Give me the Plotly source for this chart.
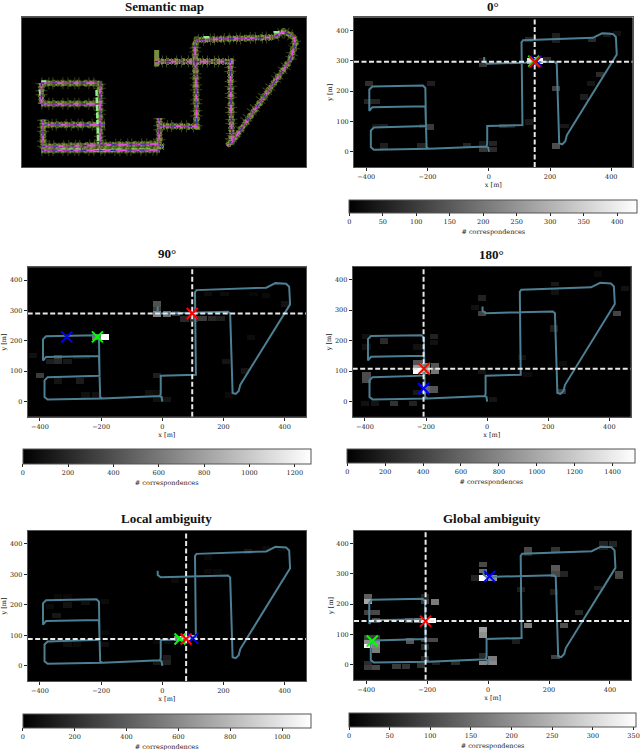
import numpy as np
import plotly.graph_objects as go

W, H = 640, 750
TRAJ_X = [0,-2,-8,-195,-375,-385,-385,-375,-205,-207,-380,-390,-390,-380,-215,-207,-205,-203,-195,-8,-5,-5,110,107,112,340,370,405,415,418,255,250,240,230,222,215,-5,-15,-15]
TRAJ_Y = [0,15,18,10,7,15,70,80,85,150,147,135,205,215,218,210,85,15,10,18,25,85,88,360,367,375,390,388,378,320,55,35,25,28,290,296,290,298,312]

X_TICKS = [-400,-200,0,200,400]
Y_TICKS = [0,100,200,300,400]

CELL_W, CELL_H = 27.0, 16.0
FINE_W, FINE_H = 4.5, 4.0
X0, Y0 = -440.0, -50.0
X1, Y1 = 470.0, 442.0

panel_names = ["0°","90°","180°","Local ambiguity","Global ambiguity"]
cb_max = [430,1270,1520,1110,353]
cb_step = [50,200,200,200,50]
cross_x = [150,98,-208,78,-205]
cross_y = [296,290,108,88,144]
red_x = [150,98,-207,78,-205]; red_y = [296,290,108,88,144]
green_x = [147,-212,-205,58,-380]; green_y = [298,213,108,88,78]
blue_x = [155,-312,-208,100,5]; blue_y = [298,213,43,90,292]

cells_0 = [(165,300,430),(140,300,380),(190,305,70),(-15,285,90),(-15,300,30),(130,370,60),(220,380,50),(220,365,50),
 (-390,225,80),(-370,165,60),(-395,165,60),(-190,225,50),(-191,84,100),(-215,85,50),(-340,85,50),(-370,85,40),
 (-340,20,50),(-220,20,60),(-70,22,60),(-15,10,90),(15,10,70),(15,30,60),(-15,30,40),(45,85,70),(75,85,50),(130,100,40),
 (220,211,110),(220,20,130),(340,370,70),(365,255,70),(335,225,35),(310,180,50),(250,85,40),(390,385,40),(420,390,30)]
cells_90 = [(-190,212,1270),(-215,212,600),(-15,320,400),(-15,305,300),(-15,288,650),(15,288,550),(45,290,250),(75,272,200),(105,272,250),(130,275,300),(165,275,200),(190,275,150),
 (-340,145,280),(-370,130,150),(-340,130,200),(-310,130,120),(-280,145,100),(-250,145,100),(-420,150,80),
 (-400,85,300),(-340,68,100),(-270,68,140),(-15,85,150),(-45,30,80),(-15,30,60),(15,5,100),(-15,5,80),
 (-250,20,80),(-215,20,80),(150,355,60),(205,355,60),(300,355,40),(340,350,50),(400,320,90),(290,210,60),(210,130,100),(270,100,100),(215,20,50)]
cells_180 = [(-230,100,1520),(-230,115,900),(-200,100,1000),(-170,100,700),(-170,118,500),(-200,118,800),(-230,130,500),
 (-395,90,450),(-395,72,450),(-175,40,500),(-200,40,600),(-230,30,150),(-15,290,400),(-15,340,200),(-40,310,100),
 (-175,215,200),(-175,195,100),(-335,200,250),(-395,215,100),(-395,180,100),(-230,180,100),
 (-305,-5,300),(-240,-5,200),(-370,-5,120),(-400,-5,100),(425,290,400),(220,385,150),(220,360,100),(215,240,180),(245,35,300),
 (-15,100,120),(115,145,100),(130,90,80),(450,370,100),(360,420,60),(20,5,120),(250,125,80)]
cells_local = [(75,90,1110),(50,90,600),(100,95,800),(20,80,60),(-15,80,40),(-15,10,100),(15,10,150),(15,25,120),
 (-310,200,80),(-370,195,50),(-345,165,100),(-250,205,70),(-340,225,40),(-310,225,40),(-310,70,60),(-280,70,50),(-190,70,60),(-190,110,40),(-190,210,50),(-370,80,50),
 (280,375,100),(340,385,50),(150,355,40),(40,280,50),(150,310,40),(180,310,40),(390,385,40)]
cells_global = [(-15,288,350),(15,288,200),(-15,310,150),(-15,330,100),(-45,288,50),(-395,225,130),(-395,210,230),(-370,175,100),(-395,175,90),
 (-175,208,170),(-205,225,50),(-205,210,80),(-185,147,350),(-205,147,300),(-230,147,150),(-260,147,100),(-370,147,100),
 (-395,75,200),(-395,62,340),(-370,75,200),(-370,62,180),(-370,48,170),(-395,90,90),(-370,90,80),(-255,80,120),(-180,82,100),(-205,82,80),(-205,60,60),
 (-15,118,220),(-15,100,200),(-15,30,60),(-15,5,190),(15,5,190),(15,20,170),(-395,5,60),(-395,-10,80),(-370,-10,100),(-300,-5,80),(-270,-5,70),(-220,0,70),(-205,20,50),(-170,5,40),(-105,5,60),
 (130,130,170),(130,380,100),(130,365,50),(220,380,70),(220,320,120),(220,300,100),(250,300,50),(380,400,50),(410,400,50),(380,385,40),(430,300,100),(430,290,90),(360,255,40),(300,175,50),(250,130,110),(220,25,90),(90,80,40),(110,250,40),(215,240,40)]
cells_all = [cells_0,cells_90,cells_180,cells_local,cells_global]

plot_px = [(354,632.7,17.5,167.3),(27.7,306,267.7,417.3),(352.7,630.7,267.3,417.3),(27.7,306,531.7,682),(354,631.3,531.7,680.7)]
cb_px = [(349.3,637.3,200,213),(22.7,310.7,449.3,464),(347.3,635.7,449,463.3),(22.7,310.7,714,728),(349,636,712.7,726.7)]
title_px = [(492.7,7),(166.7,254),(491.7,255),(166.7,519),(492,519)]
map_px = (22,306,17.3,167.7)

MAP_X = [[125,300,300],[125,300],[125,125],[135,315],[130,130],[128,300,480],[125,300,480],[478,478,492],[480,590,585,590,820,850,880,885,870,700,680],[690,695],[465,700]]
MAP_Y = [[250,250,435],[312,312],[250,312],[375,375],[360,445],[440,436,432],[451,452,450],[355,440,440],[378,380,130,120,112,95,110,130,180,420,438],[180,430],[185,185]]
MAP_BLOB_X = [470,470]; MAP_BLOB_Y = [150,200]
LIGHT_X = [[290,295],[125,140],[180,250],[280,365],[395,450],[820,850],[610,630],[120,125]]
LIGHT_Y = [[270,430],[245,245],[450,450],[452,450],[450,450],[97,97],[112,112],[270,300]]

def join(xs, ys):
    ox, oy = [], []
    for a, b in zip(xs, ys):
        ox += a + [None]; oy += b + [None]
    return ox, oy

fig = go.Figure()
axes = {}
GREY = "#555555"
FONT = "DejaVu Serif"
TXT = "#222222"
annots = []

def add_axes(n, px, ticks=True, xr=(X0,X1), yr=(Y0,Y1)):
    sx = "" if n == 1 else str(n)
    common = dict(showgrid=False, zeroline=False, showline=True, linecolor=GREY, linewidth=1, mirror=True)
    xa = dict(domain=[px[0]/W, px[1]/W], range=list(xr), anchor="y"+sx, **common)
    ya = dict(domain=[1-px[3]/H, 1-px[2]/H], range=list(yr), anchor="x"+sx, **common)
    if ticks:
        tk = dict(ticks="outside", ticklen=3, tickwidth=0.8, tickcolor=TXT, tickfont=dict(family=FONT, size=6.5, color=TXT))
        xa.update(tickvals=X_TICKS, title=dict(text="x [m]", font=dict(family=FONT, size=6.5, color=TXT), standoff=2), **tk)
        ya.update(tickvals=Y_TICKS, title=dict(text="y [m]", font=dict(family=FONT, size=6.5, color=TXT), standoff=2), **tk)
    else:
        xa.update(showticklabels=False, ticks="")
        ya.update(showticklabels=False, ticks="")
    axes["xaxis"+sx] = xa
    axes["yaxis"+sx] = ya
    return "x"+sx, "y"+sx

nx = int(round((X1-X0)/FINE_W))
ny = int(round((Y1-Y0)/FINE_H))
xc = X0 + FINE_W*(np.arange(nx)+0.5)
yc = Y0 + FINE_H*(np.arange(ny)+0.5)

for i, name in enumerate(panel_names):
    xa, ya = add_axes(i+1, plot_px[i])
    z = np.zeros((ny, nx))
    for cx, cy, v in cells_all[i]:
        mask_x = np.abs(xc-cx) <= CELL_W/2
        mask_y = np.abs(yc-cy) <= CELL_H/2
        z[np.ix_(mask_y, mask_x)] = np.maximum(z[np.ix_(mask_y, mask_x)], v)
    l, r, t, b = cb_px[i]
    fig.add_trace(go.Heatmap(z=z, x0=xc[0], dx=FINE_W, y0=yc[0], dy=FINE_H,
        zmin=0, zmax=cb_max[i], colorscale=[[0,"black"],[1,"white"]], xaxis=xa, yaxis=ya, hoverinfo="skip",
        colorbar=dict(orientation="h", x=l/W, xanchor="left", y=1-t/H, yanchor="top", len=(r-l)/W, lenmode="fraction",
            thickness=b-t, thicknessmode="pixels", xpad=0, ypad=0, outlinecolor=GREY, outlinewidth=1,
            tickmode="array", tickvals=list(range(0, cb_max[i]+1, cb_step[i])), ticks="outside", ticklen=3, tickwidth=0.8, tickcolor=TXT,
            tickfont=dict(family=FONT, size=6.5, color=TXT), ticklabeloverflow="allow",
            title=dict(text="# correspondences", side="bottom", font=dict(family=FONT, size=6.5, color=TXT)))))
    fig.add_trace(go.Scatter(x=TRAJ_X, y=TRAJ_Y, mode="lines", line=dict(color="#4d7f93", width=2), xaxis=xa, yaxis=ya, showlegend=False))
    dash = dict(color="#e8e8e8", width=2, dash="5px,2.5px")
    fig.add_trace(go.Scatter(x=[X0,X1], y=[cross_y[i]]*2, mode="lines", line=dash, xaxis=xa, yaxis=ya, showlegend=False))
    fig.add_trace(go.Scatter(x=[cross_x[i]]*2, y=[Y0,Y1], mode="lines", line=dash, xaxis=xa, yaxis=ya, showlegend=False))
    for mx, my, col in [(blue_x,blue_y,"#0000ff"),(green_x,green_y,"#00ff00"),(red_x,red_y,"#ff0000")]:
        fig.add_trace(go.Scatter(x=[mx[i]], y=[my[i]], mode="markers", xaxis=xa, yaxis=ya, showlegend=False,
            marker=dict(symbol="x-thin", size=11, line=dict(color=col, width=2))))
    annots.append(dict(text=name, x=title_px[i][0]/W, y=1-title_px[i][1]/H, xref="paper", yref="paper", showarrow=False,
        xanchor="center", yanchor="middle", font=dict(family="Liberation Serif", size=13, color="#111111", weight="bold")))

xa, ya = add_axes(6, map_px, ticks=False, xr=(67,917), yr=(503,52))
mx, my = join(MAP_X, MAP_Y)
lx, ly = join(LIGHT_X, LIGHT_Y)
layers = [(mx,my,"#3a4420",12,"1px,6px,1px,3px,1px,9px,1px,4px"),
          (mx,my,"#56701f",7,"1px,2px,2px,1px,1px,4px,3px,2px"),
          (mx,my,"#46521f",5,None),
          (MAP_BLOB_X,MAP_BLOB_Y,"#7a8a40",5,None),
          (mx,my,"#7d9a33",5,"2px,1px,1px,2px,3px,1px,1px,3px"),
          (lx,ly,"#90ee90",2.5,"6px,1.5px"),
          (mx,my,"#a03aa8",1.6,None),
          (mx,my,"#e050e8",1.8,"5px,7px,9px,11px"),
          (mx,my,"#2f2f9f",1.2,"3px,8px,5px,13px")]
for x, y, c, w, d in layers:
    line = dict(color=c, width=w)
    if d: line["dash"] = d
    fig.add_trace(go.Scatter(x=x, y=y, mode="lines", line=line, xaxis=xa, yaxis=ya, showlegend=False))
annots.append(dict(text="Semantic map", x=164/W, y=1-7/H, xref="paper", yref="paper", showarrow=False,
    xanchor="center", yanchor="middle", font=dict(family="Liberation Serif", size=13, color="#111111", weight="bold")))

fig.update_layout(width=W, height=H, margin=dict(l=0,r=0,t=0,b=0), paper_bgcolor="white", plot_bgcolor="black",
    showlegend=False, annotations=annots, **axes)
fig.write_html("out.html", post_script="document.body.style.margin='0';", config=dict(displayModeBar=False))
